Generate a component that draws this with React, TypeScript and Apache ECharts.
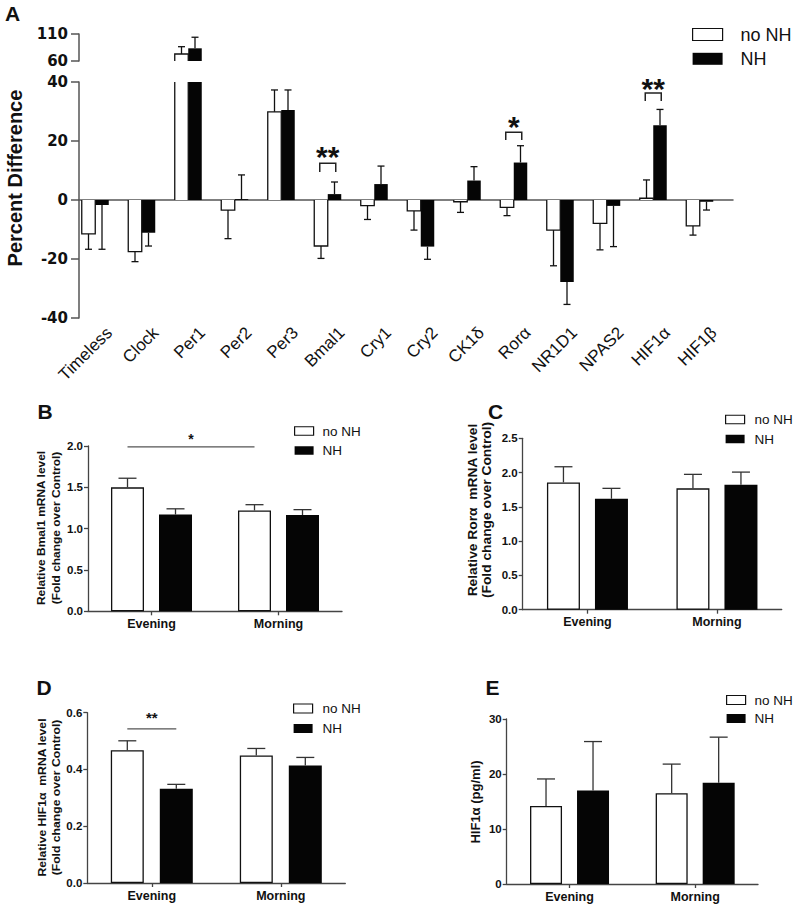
import React, { useEffect, useRef } from 'react';
import * as echarts from 'echarts';

// ---------- DATA ----------
const genes = ['Timeless', 'Clock', 'Per1', 'Per2', 'Per3', 'Bmal1', 'Cry1', 'Cry2', 'CK1δ', 'Rorα', 'NR1D1', 'NPAS2', 'HIF1α', 'HIF1β'];
const aNoNH = [-11.5, -17.5, 73, -3.4, 29.9, -15.6, -1.9, -3.7, -0.6, -2.5, -10.2, -7.9, 0.6, -8.8];
const aNoNHErr = [5.2, 3.4, 13.5, 9.7, 7.4, 4.2, 4.7, 6.5, 3.6, 2.8, 12.1, 9.0, 6.2, 3.1];
const aNH = [-1.7, -11.1, 83.5, 0.3, 30.5, 2.0, 5.4, -15.8, 6.6, 12.7, -27.8, -2.0, 25.3, -0.6];
const aNHErr = [15.0, 4.5, 20.5, 8.2, 6.8, 4.1, 6.1, 4.3, 4.7, 5.7, 7.6, 13.8, 5.4, 2.8];
const aLowerTicks = [-40, -20, 0, 20, 40];
const aUpperTicks = [60, 110];
const aSigGenes = ['Bmal1', 'Rorα', 'HIF1α'];
const aSigLabels = ['**', '*', '**'];
const aSigTop = [12.5, 23.0, 36.3];
const aSigLeg = [9.5, 20.3, 33.6];
const aSigStar = [16.9, 27.1, 39.7];

const periods = ['Evening', 'Morning'];

const bmal1NoNH = [1.5, 1.22];
const bmal1NoNHErr = [0.11, 0.07];
const bmal1NH = [1.17, 1.165];
const bmal1NHErr = [0.07, 0.065];
const bTicks = [0, 0.5, 1.0, 1.5, 2.0];

const roraNoNH = [1.857, 1.77];
const roraNoNHErr = [0.228, 0.204];
const roraNH = [1.618, 1.822];
const roraNHErr = [0.152, 0.185];
const cTicks = [0, 0.5, 1.0, 1.5, 2.0, 2.5];

const hifMrnaNoNH = [0.468, 0.4495];
const hifMrnaNoNHErr = [0.033, 0.0245];
const hifMrnaNH = [0.332, 0.4144];
const hifMrnaNHErr = [0.0155, 0.028];
const dTicks = [0, 0.2, 0.4, 0.6];

const hifProtNoNH = [14.2, 16.5];
const hifProtNoNHErr = [4.9, 5.3];
const hifProtNH = [17.0, 18.4];
const hifProtNHErr = [8.9, 8.3];
const eTicks = [0, 10, 20, 30];

const bSig = [[0, -1, 1, -1, 1.99, 2.12]];
const bSigLabels = ['*'];
const dSig = [[0, -1, 0, 1, 0.543, 0.595]];
const dSigLabels = ['**'];

// ---------- STYLE ----------
const FONT = "'Liberation Sans', Arial, sans-serif";
const WIDE = "'DejaVu Sans', sans-serif";
const INK = '#111';
const AXIS_A = '#555';
const AXIS = '#444';
const whiteBar = { color: '#fff', borderColor: '#111', borderWidth: 1.3 };
const whiteFill = { color: '#fff', borderWidth: 0 };
const blackBar = { color: '#050505' };

function errRows(vals: number[], errs: number[], side: number, keep: (v: number, e: number) => boolean) {
  const rows: number[][] = [];
  vals.forEach((v, i) => {
    const end = v >= 0 ? v + errs[i] : v - errs[i];
    if (keep(v, end)) rows.push([i, v, end, side]);
  });
  return rows;
}

const errorRenderer = (halfPair: number, cap: number, color: string, lw: number) => (params: any, api: any) => {
  const c = api.value(0);
  const side = api.value(3);
  const a = api.coord([c, api.value(1)]);
  const b = api.coord([c, api.value(2)]);
  const x = a[0] + side * halfPair;
  const style = { stroke: color, lineWidth: lw };
  return {
    type: 'group',
    children: [
      { type: 'line', shape: { x1: x, y1: a[1], x2: x, y2: b[1] }, style },
      { type: 'line', shape: { x1: x - cap, y1: b[1], x2: x + cap, y2: b[1] }, style },
    ],
  };
};

const outlineRenderer = (offset: number, barW: number, yMin: number, yMax: number) => (params: any, api: any) => {
  const c = api.value(0);
  const v = api.value(1);
  const base = Math.min(Math.max(0, yMin), yMax);
  const end = Math.min(Math.max(v, yMin), yMax);
  if (end === base) return null;
  const pb = api.coord([c, base]);
  const pe = api.coord([c, end]);
  const xc = pb[0] + offset;
  const x1 = xc - barW / 2;
  const x2 = xc + barW / 2;
  const style = { stroke: '#111', lineWidth: 1.3, fill: 'none' };
  if (end !== v) {
    return {
      type: 'group',
      children: [
        { type: 'line', shape: { x1, y1: pb[1], x2: x1, y2: pe[1] }, style },
        { type: 'line', shape: { x1: x2, y1: pb[1], x2, y2: pe[1] }, style },
      ],
    };
  }
  return { type: 'polyline', shape: { points: [[x1, pb[1]], [x1, pe[1]], [x2, pe[1]], [x2, pb[1]]] }, style };
};

const bracketRenderer = (half: number, labels: string[], font: string, dy: number) => (params: any, api: any) => {
  const c = api.value(0);
  const top = api.coord([c, api.value(1)]);
  const leg = api.coord([c, api.value(2)]);
  const star = api.coord([c, api.value(3)]);
  const xW = top[0] - half;
  const xB = top[0] + half;
  return {
    type: 'group',
    children: [
      { type: 'polyline', shape: { points: [[xW, leg[1]], [xW, top[1]], [xB, top[1]], [xB, leg[1]]] }, style: { stroke: '#222', lineWidth: 1.5, fill: 'none' } },
      { type: 'text', x: top[0], y: star[1] + dy, style: { text: labels[params.dataIndex], font, fill: INK, align: 'center', verticalAlign: 'middle' } },
    ],
  };
};

const lineSigRenderer = (half: number, labels: string[], font: string, dy: number) => (params: any, api: any) => {
  const p1 = api.coord([api.value(0), api.value(4)]);
  const p2 = api.coord([api.value(2), api.value(4)]);
  const ps = api.coord([api.value(0), api.value(5)]);
  const x1 = p1[0] + api.value(1) * half;
  const x2 = p2[0] + api.value(3) * half;
  return {
    type: 'group',
    children: [
      { type: 'line', shape: { x1, y1: p1[1], x2, y2: p1[1] }, style: { stroke: '#555', lineWidth: 1.3 } },
      { type: 'text', x: (x1 + x2) / 2, y: ps[1] + dy, style: { text: labels[params.dataIndex], font, fill: INK, align: 'center', verticalAlign: 'middle' } },
    ],
  };
};

interface Panel {
  grid: { left: number; top: number; width: number; height: number };
  ticks: number[];
  fmt?: (v: number) => string;
  noNH: number[];
  noNHErr: number[];
  nh: number[];
  nhErr: number[];
  barWidth: number;
  gap: number;
}

const panels: Panel[] = [
  { grid: { left: 88, top: 446, width: 254, height: 165.3 }, ticks: bTicks, fmt: (v) => v.toFixed(1), noNH: bmal1NoNH, noNHErr: bmal1NoNHErr, nh: bmal1NH, nhErr: bmal1NHErr, barWidth: 33, gap: 15 },
  { grid: { left: 522.7, top: 438.3, width: 259, height: 171.4 }, ticks: cTicks, fmt: (v) => v.toFixed(1), noNH: roraNoNH, noNHErr: roraNoNHErr, nh: roraNH, nhErr: roraNHErr, barWidth: 33, gap: 15 },
  { grid: { left: 87.3, top: 712.7, width: 258, height: 170.3 }, ticks: dTicks, fmt: (v) => v.toFixed(1), noNH: hifMrnaNoNH, noNHErr: hifMrnaNoNHErr, nh: hifMrnaNH, nhErr: hifMrnaNHErr, barWidth: 33, gap: 16 },
  { grid: { left: 506.7, top: 719, width: 251.3, height: 165 }, ticks: eTicks, noNH: hifProtNoNH, noNHErr: hifProtNoNHErr, nh: hifProtNH, nhErr: hifProtNHErr, barWidth: 32, gap: 15 },
];

const txt = (text: string, x: number, y: number, font: string, extra: any = {}, lineHeight?: number) => ({
  type: 'text', x, y, ...extra,
  style: { text, font, fill: INK, align: 'center', verticalAlign: 'middle', lineHeight },
});

function buildOption(): any {
  const grids: any[] = [];
  const xAxes: any[] = [];
  const yAxes: any[] = [];
  const series: any[] = [];

  const A_BAR_W = 13.5;
  const aHalf = A_BAR_W / 2;
  const aLowMin = aLowerTicks[0];
  const aLowMax = aLowerTicks[aLowerTicks.length - 1];
  const aUpMin = aUpperTicks[0];
  const aUpMax = aUpperTicks[aUpperTicks.length - 1];

  const aYLabel = { fontFamily: WIDE, fontWeight: 'bold', fontSize: 15, color: INK, margin: 11 };
  const aAxisLine = { show: true, lineStyle: { color: AXIS_A, width: 1.5 } };
  const aTick = { show: true, length: 8, lineStyle: { color: AXIS_A, width: 1.5 } };

  // 0: A lower frame
  grids.push({ left: 79, top: 82, width: 654, height: 236 });
  xAxes.push({ gridIndex: 0, type: 'value', min: 0, max: 1, axisLine: { ...aAxisLine, onZero: true }, axisTick: { show: false }, axisLabel: { show: false }, splitLine: { show: false } });
  yAxes.push({ gridIndex: 0, type: 'value', min: aLowMin, max: aLowMax, interval: aLowerTicks[1] - aLowerTicks[0], axisLine: aAxisLine, axisTick: aTick, axisLabel: aYLabel, splitLine: { show: false } });
  // 1: A lower bars
  grids.push({ left: 72, top: 82, width: 651, height: 236 });
  xAxes.push({ gridIndex: 1, type: 'category', data: genes, show: false });
  yAxes.push({ gridIndex: 1, type: 'value', min: aLowMin, max: aLowMax, show: false });
  // 2: A upper frame
  grids.push({ left: 79, top: 34, width: 654, height: 27 });
  xAxes.push({ gridIndex: 2, type: 'value', min: 0, max: 1, show: false });
  yAxes.push({ gridIndex: 2, type: 'value', min: aUpMin, max: aUpMax, axisLine: aAxisLine, axisTick: { ...aTick, customValues: aUpperTicks }, axisLabel: { ...aYLabel, customValues: aUpperTicks }, splitLine: { show: false } });
  // 3: A upper bars
  grids.push({ left: 72, top: 34, width: 651, height: 27 });
  xAxes.push({ gridIndex: 3, type: 'category', data: genes, show: false });
  yAxes.push({ gridIndex: 3, type: 'value', min: aUpMin, max: aUpMax, show: false });
  // 4: A gene-name axis (labels only), shifted like the original figure
  grids.push({ left: 86, top: 82, width: 651, height: 236 });
  xAxes.push({ gridIndex: 4, type: 'category', data: genes, axisLine: { show: false }, axisTick: { show: false }, axisLabel: { interval: 0, rotate: 45, margin: 12, fontSize: 17, color: INK } });
  yAxes.push({ gridIndex: 4, type: 'value', min: 0, max: 1, show: false });

  series.push(
    { type: 'bar', name: 'no NH', xAxisIndex: 1, yAxisIndex: 1, data: aNoNH, barWidth: A_BAR_W, barGap: '0%', itemStyle: whiteFill, clip: true, emphasis: { disabled: true } },
    { type: 'bar', name: 'NH', xAxisIndex: 1, yAxisIndex: 1, data: aNH, barWidth: A_BAR_W, barGap: '0%', itemStyle: blackBar, clip: true, emphasis: { disabled: true } },
    { type: 'bar', name: 'no NH', xAxisIndex: 3, yAxisIndex: 3, data: aNoNH.map((v) => (v > aUpMin ? v : '-')), barWidth: A_BAR_W, barGap: '0%', itemStyle: whiteFill, clip: true, emphasis: { disabled: true } },
    { type: 'bar', name: 'NH', xAxisIndex: 3, yAxisIndex: 3, data: aNH.map((v) => (v > aUpMin ? v : '-')), barWidth: A_BAR_W, barGap: '0%', itemStyle: blackBar, clip: true, emphasis: { disabled: true } },
  );
  series.push({
    type: 'custom', name: 'outlineA', xAxisIndex: 1, yAxisIndex: 1, z: 3,
    renderItem: outlineRenderer(-aHalf, A_BAR_W, aLowMin, aLowMax),
    encode: { x: 0, y: 1 },
    data: aNoNH.map((v, i) => [i, v]),
  });
  series.push({
    type: 'custom', name: 'outlineAUp', xAxisIndex: 3, yAxisIndex: 3, z: 3,
    renderItem: outlineRenderer(-aHalf, A_BAR_W, aUpMin, aUpMax),
    encode: { x: 0, y: 1 },
    data: aNoNH.map((v, i) => [i, v]).filter((r) => r[1] > aUpMin),
  });
  const inLow = (v: number, e: number) => v <= aLowMax && v >= aLowMin && e <= aLowMax && e >= aLowMin;
  const inUp = (v: number, e: number) => v > aUpMin && e <= aUpMax;
  series.push({
    type: 'custom', name: 'errA', xAxisIndex: 1, yAxisIndex: 1, z: 4,
    renderItem: errorRenderer(aHalf, 3.5, '#111', 1.3),
    encode: { x: 0, y: [1, 2] },
    data: [...errRows(aNoNH, aNoNHErr, -1, inLow), ...errRows(aNH, aNHErr, 1, inLow)],
  });
  series.push({
    type: 'custom', name: 'errAUp', xAxisIndex: 3, yAxisIndex: 3, z: 4,
    renderItem: errorRenderer(aHalf, 3.5, '#111', 1.3),
    encode: { x: 0, y: [1, 2] },
    data: [...errRows(aNoNH, aNoNHErr, -1, inUp), ...errRows(aNH, aNHErr, 1, inUp)],
  });
  series.push({
    type: 'custom', name: 'sigA', xAxisIndex: 1, yAxisIndex: 1, z: 4,
    renderItem: bracketRenderer(8, aSigLabels, `bold 30px ${FONT}`, 6),
    encode: { x: 0, y: [1, 2, 3] },
    data: aSigGenes.map((g, i) => [genes.indexOf(g), aSigTop[i], aSigLeg[i], aSigStar[i]]),
  });

  // B..E
  panels.forEach((p, k) => {
    const gi = 5 + k;
    grids.push(p.grid);
    xAxes.push({
      gridIndex: gi, type: 'category', data: periods,
      axisLine: { show: true, lineStyle: { color: AXIS, width: 1.3 } },
      axisTick: { show: true, alignWithLabel: true, length: 4, lineStyle: { color: AXIS, width: 1.3 } },
      axisLabel: { margin: 6, fontFamily: FONT, fontWeight: 'bold', fontSize: 12.5, color: INK },
    });
    yAxes.push({
      gridIndex: gi, type: 'value', min: p.ticks[0], max: p.ticks[p.ticks.length - 1], interval: p.ticks[1] - p.ticks[0],
      axisLine: { show: true, lineStyle: { color: AXIS, width: 1.3 } },
      axisTick: { show: true, length: 4, lineStyle: { color: AXIS, width: 1.3 } },
      axisLabel: { margin: 5, fontFamily: FONT, fontWeight: 'bold', fontSize: 11.5, color: INK, formatter: p.fmt },
      splitLine: { show: false },
    });
    const gapPct = `${((p.gap / p.barWidth) * 100).toFixed(1)}%`;
    series.push(
      { type: 'bar', name: 'no NH', xAxisIndex: gi, yAxisIndex: gi, data: p.noNH, barWidth: p.barWidth, barGap: gapPct, itemStyle: whiteBar, emphasis: { disabled: true } },
      { type: 'bar', name: 'NH', xAxisIndex: gi, yAxisIndex: gi, data: p.nh, barWidth: p.barWidth, barGap: gapPct, itemStyle: blackBar, emphasis: { disabled: true } },
      {
        type: 'custom', name: `err${k}`, xAxisIndex: gi, yAxisIndex: gi, z: 3,
        renderItem: errorRenderer((p.barWidth + p.gap) / 2, 9, '#333', 1.3),
        encode: { x: 0, y: [1, 2] },
        data: [...errRows(p.noNH, p.noNHErr, -1, () => true), ...errRows(p.nh, p.nhErr, 1, () => true)],
      },
    );
  });
  series.push({
    type: 'custom', name: 'sigB', xAxisIndex: 5, yAxisIndex: 5, z: 4,
    renderItem: lineSigRenderer((panels[0].barWidth + panels[0].gap) / 2, bSigLabels, `bold 14px ${FONT}`, 3),
    encode: { x: [0, 2], y: [4, 5] },
    data: bSig,
  });
  series.push({
    type: 'custom', name: 'sigD', xAxisIndex: 7, yAxisIndex: 7, z: 4,
    renderItem: lineSigRenderer((panels[2].barWidth + panels[2].gap) / 2, dSigLabels, `bold 15px ${FONT}`, 3),
    encode: { x: [0, 2], y: [4, 5] },
    data: dSig,
  });

  const legend = (left: number, top: number, fontSize: number, lineHeight: number, iw: number, ih: number, gap: number, pad: number) => ({
    orient: 'vertical', left, top, padding: 0, itemWidth: iw, itemHeight: ih, itemGap: gap, icon: 'rect', selectedMode: false,
    textStyle: { fontFamily: FONT, fontSize, lineHeight, color: INK, padding: [0, 0, 0, pad] },
    data: [
      { name: 'no NH', itemStyle: { color: '#fff', borderColor: '#111', borderWidth: 1.2 } },
      { name: 'NH', itemStyle: { color: '#050505', borderWidth: 0 } },
    ],
  });

  const rot = Math.PI / 2;
  const letter = `bold 21px ${FONT}`;
  const graphic = [
    txt('A', 12.5, 13, letter),
    txt('B', 45, 411, letter),
    txt('C', 495.5, 411, letter),
    txt('D', 44, 687, letter),
    txt('E', 492.5, 687, letter),
    txt('Percent Difference', 15, 178, `bold 20px ${FONT}`, { rotation: rot }),
    txt('Relative Bmal1 mRNA level\n(Fold change over Control)', 48.5, 528, `bold 11.5px ${FONT}`, { rotation: rot, scaleX: 1.04 }, 15),
    txt('Relative Rorα  mRNA level\n(Fold change over Control)', 480, 510, `bold 12px ${FONT}`, { rotation: rot, scaleX: 1.15 }, 14),
    txt('Relative HIF1α  mRNA level\n(Fold change over Control)', 49, 797.5, `bold 11.5px ${FONT}`, { rotation: rot, scaleX: 1.06 }, 14),
    txt('HIF1α (pg/ml)', 476, 802, `bold 12.5px ${FONT}`, { rotation: rot, scaleX: 1.04 }),
  ];

  return {
    animation: false,
    grid: grids,
    xAxis: xAxes,
    yAxis: yAxes,
    series,
    legend: [
      legend(692, 24.5, 18, 20, 30, 12, 4.3, 13),
      legend(294, 424, 13.5, 14, 19, 8.5, 5.5, 4),
      legend(725, 412.5, 13.5, 14, 19, 8.5, 5.5, 5),
      legend(293, 701.5, 13.5, 14, 19, 9, 6, 5),
      legend(726, 693, 13.5, 14, 19, 9, 4.5, 4),
    ],
    graphic,
  };
}

export default function App() {
  const ref = useRef<HTMLDivElement>(null);
  useEffect(() => {
    const chart = echarts.init(ref.current!, null, { renderer: 'svg' });
    chart.setOption(buildOption());
    return () => chart.dispose();
  }, []);
  return <div ref={ref} style={{ position: 'absolute', left: 0, top: 0, width: 800, height: 906, background: '#fff' }} />;
}
